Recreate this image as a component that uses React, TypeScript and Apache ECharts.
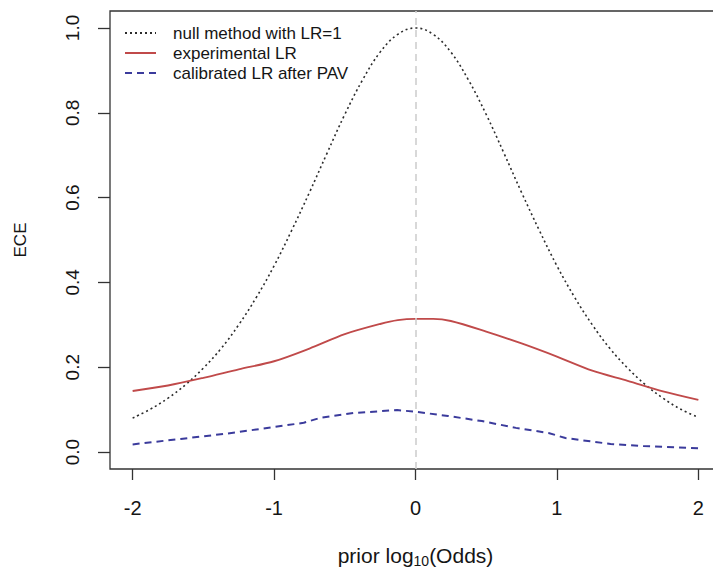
import React, { useEffect, useRef } from "react";
import * as echarts from "echarts";

// Prior log10 odds grid for the null (LR = 1) reference curve
const nullX = [
  -2, -1.875, -1.75, -1.625, -1.5, -1.375, -1.25, -1.125, -1, -0.875, -0.75, -0.625, -0.5, -0.375, -0.25, -0.125,
  0, 0.125, 0.25, 0.375, 0.5, 0.625, 0.75, 0.875, 1, 1.125, 1.25, 1.375, 1.5, 1.625, 1.75, 1.875, 2,
];
const nullECE = [
  0.080, 0.101, 0.127, 0.159, 0.198, 0.244, 0.300, 0.365, 0.439, 0.523, 0.612, 0.705, 0.796, 0.877, 0.943, 0.985,
  1.000, 0.985, 0.943, 0.877, 0.796, 0.705, 0.612, 0.523, 0.439, 0.365, 0.300, 0.244, 0.198, 0.159, 0.127, 0.101, 0.082,
];

// Experimental LR
const expX = [-2, -1.75, -1.5, -1.25, -1, -0.75, -0.5, -0.25, -0.125, 0, 0.125, 0.25, 0.5, 0.75, 1, 1.25, 1.5, 1.75, 2];
const expECE = [
  0.144, 0.157, 0.175, 0.195, 0.214, 0.244, 0.278, 0.302, 0.311, 0.314, 0.314, 0.309, 0.284, 0.256, 0.225, 0.192,
  0.168, 0.143, 0.123,
];

// Calibrated LR after PAV
const pavX = [-2, -1.66, -1.345, -1, -0.79, -0.67, -0.44, -0.13, 0, 0.23, 0.47, 0.71, 0.94, 1.06, 1.38, 1.61, 2];
const pavECE = [
  0.018, 0.031, 0.043, 0.059, 0.069, 0.081, 0.092, 0.099, 0.095, 0.085, 0.073, 0.057, 0.045, 0.033, 0.019, 0.014,
  0.009,
];

const xTicks = [-2, -1, 0, 1, 2];
const yTicks = [0, 0.2, 0.4, 0.6, 0.8, 1.0];

const seriesNames = ["null method with LR=1", "experimental LR", "calibrated LR after PAV"];

const FONT = "'Liberation Sans', Arial, sans-serif";
const INK = "#151515";

const zip = (xs: number[], ys: number[]) => xs.map((x, i) => [x, ys[i]]);

export default function App() {
  const ref = useRef<HTMLDivElement>(null);

  useEffect(() => {
    if (!ref.current) return;
    const chart = echarts.init(ref.current, undefined, { renderer: "svg" });

    chart.setOption({
      animation: false,
      backgroundColor: "#ffffff",
      textStyle: { fontFamily: FONT },
      grid: {
        left: 110,
        top: 11,
        width: 611,
        height: 458,
        show: true,
        borderColor: "#333",
        borderWidth: 1.3,
        backgroundColor: "transparent",
        outerBoundsMode: "none",
      },
      legend: {
        orient: "vertical",
        left: 124,
        top: 23,
        padding: 0,
        itemWidth: 31,
        itemHeight: 14,
        itemGap: 0,
        data: seriesNames,
        itemStyle: { opacity: 0 },
        textStyle: {
          fontFamily: FONT,
          fontSize: 17,
          color: INK,
          lineHeight: 20,
          padding: [0, 0, 0, 12],
        },
      },
      xAxis: {
        type: "value",
        min: -2.16,
        max: 2.16,
        splitLine: { show: false },
        axisLine: { show: false, onZero: false },
        axisTick: {
          show: true,
          length: 11,
          customValues: xTicks,
          lineStyle: { color: "#333", width: 1.3 },
        },
        axisLabel: {
          customValues: xTicks,
          fontSize: 20,
          color: INK,
          margin: 29,
          fontFamily: FONT,
        },
        name: "{a|prior log}{s|10}{a|(Odds)}",
        nameLocation: "middle",
        nameGap: 74,
        nameTextStyle: {
          rich: {
            a: { fontSize: 21, lineHeight: 24, color: INK, fontFamily: FONT },
            s: { fontSize: 14, lineHeight: 12, padding: [12, 0, 0, 0], color: INK, fontFamily: FONT },
          },
        },
      },
      yAxis: {
        type: "value",
        min: -0.04,
        max: 1.04,
        splitLine: { show: false },
        axisLine: { show: false, onZero: false },
        axisTick: {
          show: true,
          length: 12,
          customValues: yTicks,
          lineStyle: { color: "#333", width: 1.3 },
        },
        axisLabel: {
          customValues: yTicks,
          rotate: 90,
          fontSize: 19,
          color: INK,
          margin: 28,
          fontFamily: FONT,
          formatter: (v: number) => v.toFixed(1),
        },
        name: "ECE",
        nameLocation: "middle",
        nameGap: 81,
        nameTextStyle: { fontSize: 17, color: INK, fontFamily: FONT },
      },
      series: [
        {
          name: seriesNames[0],
          type: "line",
          data: zip(nullX, nullECE),
          symbol: "none",
          smooth: 0.4,
          lineStyle: { color: "#2b2b2b", width: 1.6, type: [2, 3] },
          itemStyle: { color: "#2b2b2b" },
          markLine: {
            silent: true,
            symbol: "none",
            label: { show: false },
            lineStyle: { color: "#cfcfcf", width: 1.6, type: [7, 5] },
            data: [{ xAxis: 0 }],
          },
          z: 3,
        },
        {
          name: seriesNames[1],
          type: "line",
          data: zip(expX, expECE),
          symbol: "none",
          smooth: 0.3,
          lineStyle: { color: "#c04a4a", width: 1.9, type: "solid" },
          itemStyle: { color: "#c04a4a" },
          z: 4,
        },
        {
          name: seriesNames[2],
          type: "line",
          data: zip(pavX, pavECE),
          symbol: "none",
          lineStyle: { color: "#3b3b9c", width: 2, type: [7, 5] },
          itemStyle: { color: "#3b3b9c" },
          z: 4,
        },
      ],
    });

    return () => chart.dispose();
  }, []);

  return (
    <div
      ref={ref}
      style={{ position: "fixed", left: 0, top: 0, width: 713, height: 569, background: "#fff" }}
    />
  );
}
